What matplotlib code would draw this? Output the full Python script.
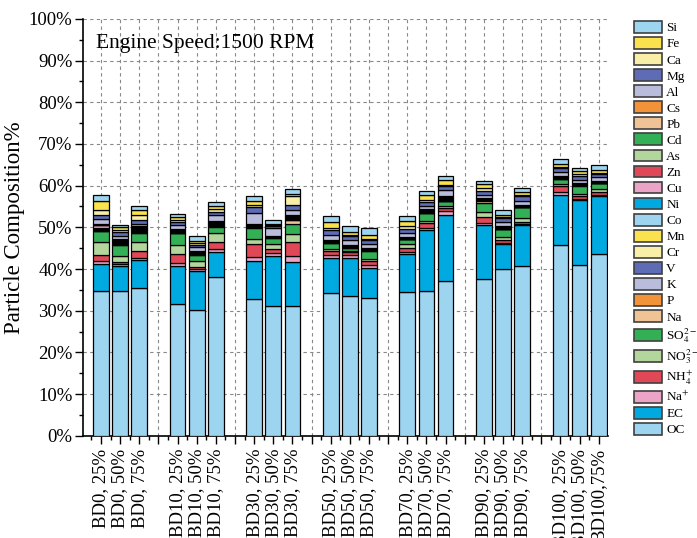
import numpy as np
import matplotlib
matplotlib.use("Agg")
import matplotlib.pyplot as plt
from matplotlib.ticker import MultipleLocator, FuncFormatter

plt.rcParams['font.family'] = 'serif'
plt.rcParams['font.serif'] = ['Liberation Serif', 'DejaVu Serif']
plt.rcParams['mathtext.fontset'] = 'stix'

# sample labels, 7 blends x 3 loads
samples = ["BD0, 25%", "BD0, 50%", "BD0, 75%",
           "BD10, 25%", "BD10, 50%", "BD10, 75%",
           "BD30, 25%", "BD30, 50%", "BD30, 75%",
           "BD50, 25%", "BD50, 50%", "BD50, 75%",
           "BD70, 25%", "BD70, 50%", "BD70, 75%",
           "BD90, 25%", "BD90, 50%", "BD90, 75%",
           "BD100, 25%", "BD100, 50%", "BD100,75%"]

# composition in %, bottom of the stack first
OC = [34.7, 34.7, 35.5, 31.5, 30.2, 38.1, 32.7, 31.2, 31.2, 34.3, 33.5, 33.1, 34.5, 34.75, 37.1, 37.7, 40.1, 40.65, 45.7, 41.05, 43.7]
EC = [6.6, 6.0, 6.6, 9.2, 9.3, 5.9, 9.25, 11.95, 10.5, 8.45, 9.25, 7.25, 9.05, 14.6, 15.9, 12.85, 5.9, 9.9, 12.1, 15.55, 13.7]
Na_ion = [0.6, 0.4, 0.65, 0.8, 0.4, 0.8, 1.0, 0.6, 1.45, 0.55, 0.55, 0.55, 0.55, 0.6, 0.8, 0.5, 0.35, 0.25, 0.65, 0.3, 0.4]
NH4 = [1.4, 0.5, 1.65, 2.2, 0.6, 1.7, 3.0, 1.15, 3.4, 1.05, 0.8, 1.05, 1.05, 1.0, 0.8, 1.35, 0.65, 0.55, 1.45, 0.5, 0.65]
NO3 = [3.2, 1.5, 2.0, 2.0, 1.3, 2.05, 1.2, 1.0, 1.85, 0.5, 0.3, 0.5, 0.95, 0.5, 0.4, 1.2, 0.65, 0.8, 0.5, 0.5, 0.65]
SO4 = [2.5, 2.6, 2.25, 2.85, 1.6, 1.6, 2.8, 1.6, 2.35, 1.4, 0.7, 1.9, 1.05, 1.9, 1.2, 2.2, 1.85, 2.6, 1.2, 2.1, 1.5]
Na = [0.1, 0.1, 0.1, 0.05, 0.05, 0.1, 0.05, 0.05, 1.05, 0.05, 0.05, 0.05, 0.03, 0.05, 0.05, 0.6, 0.05, 0.05, 0.05, 0.03, 0.05]
P = [0.1, 0.1, 0.05, 0.05, 0.05, 0.1, 0.05, 0.02, 0.05, 0.05, 0.03, 0.05, 0.03, 0.05, 0.05, 0.03, 0.05, 0.03, 0.05, 0.05, 0.02]
K = [0.15, 0.2, 0.15, 0.1, 0.1, 0.15, 0.1, 0.03, 0.1, 0.1, 0.05, 0.05, 0.04, 0.1, 0.1, 0.05, 0.05, 0.05, 0.05, 0.04, 0.03]
V = [0.1, 0.1, 0.1, 0.05, 0.1, 0.1, 0.05, 0.02, 0.1, 0.05, 0.05, 0.1, 0.03, 0.05, 0.1, 0.04, 0.05, 0.05, 0.05, 0.04, 0.02]
Cr = [0.1, 0.1, 0.1, 0.05, 0.05, 0.1, 0.05, 0.02, 0.1, 0.05, 0.05, 0.05, 0.03, 0.05, 0.05, 0.04, 0.05, 0.05, 0.05, 0.04, 0.02]
Mn = [0.1, 0.15, 0.1, 0.1, 0.05, 0.1, 0.05, 0.03, 0.1, 0.05, 0.05, 0.05, 0.03, 0.05, 0.05, 0.04, 0.05, 0.05, 0.05, 0.04, 0.03]
Co = [0.1, 0.1, 0.1, 0.05, 0.05, 0.1, 0.05, 0.02, 0.1, 0.05, 0.04, 0.05, 0.03, 0.05, 0.05, 0.04, 0.05, 0.04, 0.05, 0.04, 0.02]
Ni = [0.1, 0.15, 0.2, 0.1, 0.1, 0.15, 0.1, 0.04, 0.15, 0.1, 0.06, 0.1, 0.04, 0.2, 0.15, 0.06, 0.1, 0.06, 0.1, 0.05, 0.04]
Cu = [0.6, 0.1, 0.15, 0.1, 0.1, 0.1, 0.05, 0.03, 0.1, 0.05, 0.05, 0.05, 0.03, 0.05, 0.1, 0.04, 0.05, 0.05, 0.05, 0.04, 0.03]
Zn = [0.1, 0.15, 0.15, 0.1, 0.1, 0.15, 0.1, 0.04, 0.1, 0.05, 0.06, 0.05, 0.04, 0.1, 0.15, 0.05, 0.05, 0.06, 0.1, 0.04, 0.04]
As = [0.1, 0.1, 0.1, 0.05, 0.05, 0.1, 0.05, 0.02, 0.05, 0.05, 0.04, 0.05, 0.03, 0.05, 0.05, 0.04, 0.05, 0.04, 0.05, 0.04, 0.02]
Cd = [0.1, 0.15, 0.2, 0.1, 0.1, 0.1, 0.1, 0.04, 0.1, 0.05, 0.06, 0.05, 0.03, 0.1, 0.15, 0.05, 0.1, 0.06, 0.05, 0.04, 0.04]
Pb = [0.05, 0.05, 0.05, 0.05, 0.05, 0.05, 0.05, 0.02, 0.1, 0.05, 0.03, 0.05, 0.02, 0.05, 0.1, 0.04, 0.05, 0.03, 0.05, 0.03, 0.02]
Cs = [0.05, 0.05, 0.05, 0.05, 0.05, 0.05, 0.05, 0.02, 0.05, 0.05, 0.03, 0.05, 0.04, 0.05, 0.05, 0.03, 0.05, 0.03, 0.05, 0.03, 0.02]
Al = [1.2, 0.55, 0.6, 1.05, 0.8, 1.35, 2.7, 1.85, 1.05, 1.2, 1.2, 0.95, 0.95, 0.8, 1.45, 0.8, 1.05, 0.95, 0.8, 0.8, 0.95]
Mg = [1.0, 1.05, 1.0, 0.7, 0.65, 0.8, 1.3, 0.5, 1.2, 1.2, 0.95, 0.8, 1.05, 0.8, 1.1, 1.05, 0.8, 1.05, 0.95, 1.05, 0.8]
Ca = [1.1, 0.55, 1.05, 0.4, 0.3, 0.55, 0.55, 0.25, 2.15, 0.4, 0.25, 0.2, 0.8, 0.65, 0.25, 0.55, 0.25, 0.4, 0.25, 0.3, 0.25]
Fe = [2.1, 0.65, 1.2, 0.7, 0.65, 0.8, 0.8, 0.4, 0.65, 1.45, 0.8, 1.05, 1.2, 1.05, 1.05, 0.95, 0.55, 0.65, 0.8, 0.8, 0.8]
Si = [1.4, 0.55, 1.0, 0.7, 1.0, 0.9, 1.2, 0.8, 1.1, 1.4, 1.35, 1.75, 1.2, 1.15, 1.0, 0.9, 1.2, 0.95, 1.3, 0.8, 1.05]

species = [
    ("OC", OC, "#9DD5F0"),
    ("EC", EC, "#00A9E0"),
    (r"Na$^{+}$", Na_ion, "#EBA3C6"),
    (r"NH$_4^{+}$", NH4, "#E04858"),
    (r"NO$_3^{2-}$", NO3, "#B3D69C"),
    (r"SO$_4^{2-}$", SO4, "#33B056"),
    ("Na", Na, "#F0C396"),
    ("P", P, "#F2933A"),
    ("K", K, "#BABCDC"),
    ("V", V, "#5D6CB4"),
    ("Cr", Cr, "#F8EEA8"),
    ("Mn", Mn, "#F9E24E"),
    ("Co", Co, "#9DD5F0"),
    ("Ni", Ni, "#00A9E0"),
    ("Cu", Cu, "#EBA3C6"),
    ("Zn", Zn, "#E04858"),
    ("As", As, "#B3D69C"),
    ("Cd", Cd, "#33B056"),
    ("Pb", Pb, "#F0C396"),
    ("Cs", Cs, "#F2933A"),
    ("Al", Al, "#BABCDC"),
    ("Mg", Mg, "#5D6CB4"),
    ("Ca", Ca, "#F8EEA8"),
    ("Fe", Fe, "#F9E24E"),
    ("Si", Si, "#9DD5F0"),
]

# three bars per blend, one empty slot between blends
pos = np.array([4 * (i // 3) + i % 3 for i in range(len(samples))])
n_slots = pos[-1] + 1

fig = plt.figure(figsize=(6.97, 5.38), dpi=100)
ax = fig.add_axes([0.119, 0.19, 0.753, 0.775])

bottom = np.zeros(len(samples))
handles = []
for name, vals, col in species:
    vals = np.asarray(vals)
    b = ax.bar(pos, vals, width=0.82, bottom=bottom, color=col,
               edgecolor="black", linewidth=0.9, label=name, zorder=3)
    handles.append(b)
    bottom += vals

ax.set_xlim(-0.94, n_slots - 0.53)
ax.set_ylim(0, 100)

labels = [""] * n_slots
for p, s in zip(pos, samples):
    labels[p] = s
ax.set_xticks(range(n_slots))
ax.set_xticklabels(labels, rotation=90, fontsize=13.5)
ax.xaxis.set_minor_locator(MultipleLocator(0.5))

ax.yaxis.set_major_locator(MultipleLocator(10))
ax.yaxis.set_minor_locator(MultipleLocator(5))
ax.yaxis.set_major_formatter(FuncFormatter(lambda v, _: f"{v:.0f}%"))
ax.tick_params(axis="y", labelsize=13.5, pad=2)
ax.tick_params(axis="x", pad=4)
ax.tick_params(which="major", direction="out", length=5.5, width=1)
ax.tick_params(which="minor", direction="out", length=3, width=1)

for s in ["top", "right"]:
    ax.spines[s].set_visible(False)
for s in ["left", "bottom"]:
    ax.spines[s].set_linewidth(1.2)

ax.grid(True, which="major", color="#888888", linestyle=(0, (3, 3)),
        linewidth=0.8, zorder=0)
ax.set_axisbelow(True)

ax.set_ylabel("Particle Composition%", fontsize=16.5, labelpad=3)
ax.text(0.025, 0.94, "Engine Speed:1500 RPM", transform=ax.transAxes,
        fontsize=15.5, ha="left", va="center")

leg = fig.legend(handles[::-1], [h.get_label() for h in handles[::-1]],
                 loc="upper left", bbox_to_anchor=(634 / 697, 1 - 21 / 538),
                 frameon=False, fontsize=9.5, handlelength=2.15,
                 handleheight=1.0, labelspacing=0.2, handletextpad=0.3,
                 borderpad=0, borderaxespad=0)
for h in leg.legend_handles:
    h.set_edgecolor("#404040")
    h.set_linewidth(1.2)

fig.savefig("out.png", dpi=100)
